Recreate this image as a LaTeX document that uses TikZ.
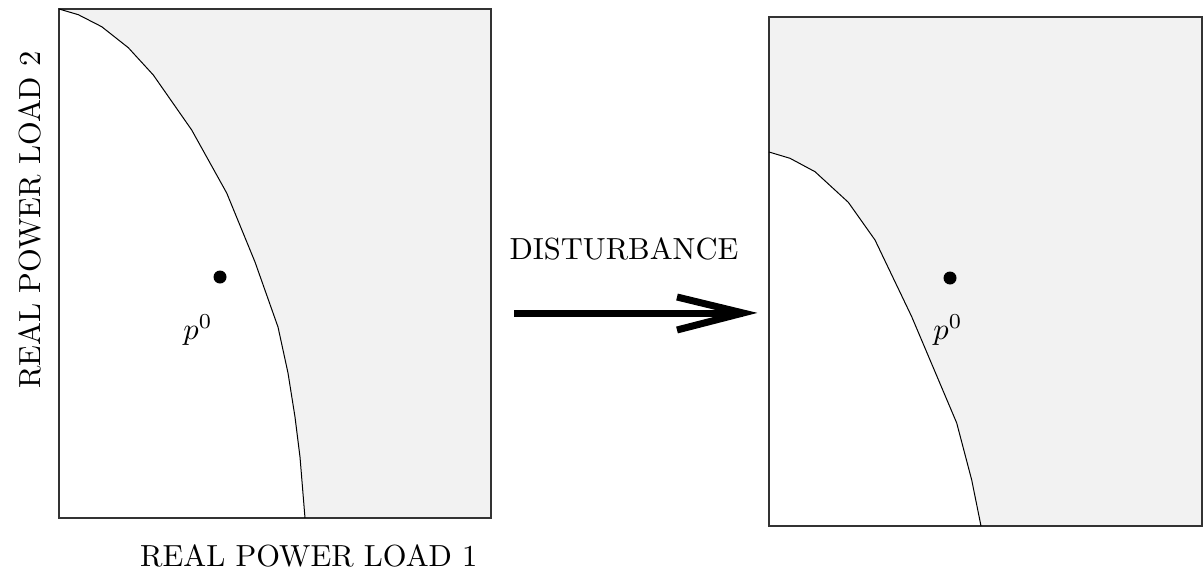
\documentclass[tikz,border=0pt]{standalone}
\usepackage{graphicx}
\newcommand{\lbltext}[1]{\scalebox{3.05}{#1}}
\begin{document}
\begin{tikzpicture}[x=1pt,y=-1pt,
  region/.style={fill=black!5,draw=none},
  frame/.style={draw=black!80,line width=1.3pt},
  boundary/.style={draw=black,line width=1pt,line join=round},
  pt/.style={circle,fill=black,inner sep=0pt,minimum size=13pt},
  lbl/.style={inner sep=0pt},
  bigarrow/.style={line width=7pt,draw=black},
]
\useasboundingbox (0,0) rectangle (1204,570);

% ---- left panel: operating region before the disturbance ----
\coordinate (L1) at (59,9);
\coordinate (L2) at (491,518);
\fill[region] (59,9) -- (78.3,14.7) -- (101.7,26.7) -- (128.3,47.7) -- (153.3,75)
  -- (191.7,130) -- (226.7,193) -- (255,262) -- (278,327) -- (288,373)
  -- (295,417) -- (300,457) -- (305,518) -- (491,518) -- (491,9) -- cycle;
\draw[frame] (L1) rectangle (L2);
\draw[boundary] (59,9) -- (78.3,14.7) -- (101.7,26.7) -- (128.3,47.7) -- (153.3,75)
  -- (191.7,130) -- (226.7,193) -- (255,262) -- (278,327) -- (288,373)
  -- (295,417) -- (300,457) -- (305,518);
\node[pt] (p0L) at (220,277) {};
\node[lbl] (p0Llab) at (198,330) {\lbltext{$p^0$}};

% ---- right panel: operating region after the disturbance ----
\coordinate (R1) at (769,17);
\coordinate (R2) at (1202,526);
\fill[region] (769,17) -- (769,152) -- (790,158.3) -- (815,171.7) -- (848.3,202.3)
  -- (875,240) -- (911.7,316.7) -- (956.7,423) -- (971.7,480) -- (981,526)
  -- (1202,526) -- (1202,17) -- cycle;
\draw[frame] (R1) rectangle (R2);
\draw[boundary] (769,152) -- (790,158.3) -- (815,171.7) -- (848.3,202.3)
  -- (875,240) -- (911.7,316.7) -- (956.7,423) -- (971.7,480) -- (981,526);
\node[pt] (p0R) at (950,278) {};
\node[lbl] (p0Rlab) at (948,330) {\lbltext{$p^0$}};

% ---- axis labels ----
\node[lbl,anchor=base west] (xlab) at (140,566) {\lbltext{REAL POWER LOAD 1}};
\node[lbl,rotate=90] (ylab) at (30,220) {\lbltext{REAL POWER LOAD 2}};

% ---- disturbance arrow ----
\node[lbl] (dist) at (624,249) {\lbltext{DISTURBANCE}};
\coordinate (aS) at (514,313);
\coordinate (aT) at (743,313);
\coordinate (aU) at (677,297);
\coordinate (aD) at (677,330);
\draw[bigarrow] (aS) -- (aT);
\draw[bigarrow,line join=miter] (aU) -- (aT) -- (aD);
\end{tikzpicture}
\end{document}
